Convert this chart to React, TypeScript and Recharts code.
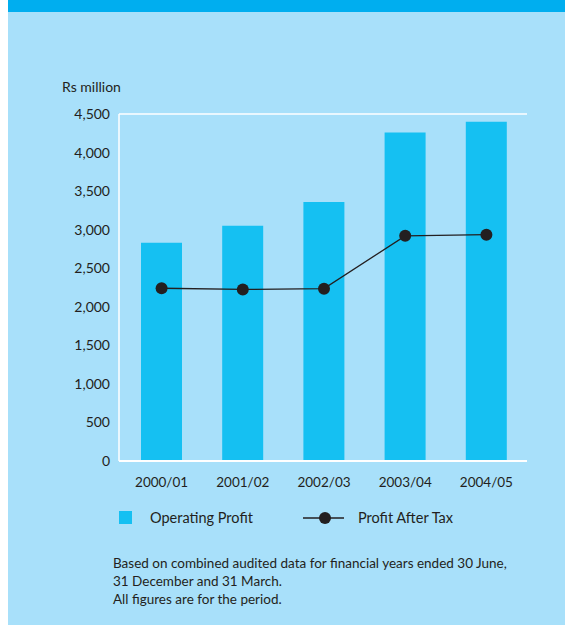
import React from 'react';
import { ComposedChart, Bar, Line, XAxis, YAxis, CartesianGrid } from 'recharts';

const categories = ['2000/01', '2001/02', '2002/03', '2003/04', '2004/05'];
const operatingProfit = [2830, 3050, 3360, 4260, 4400];
const profitAfterTax = [2240, 2225, 2235, 2920, 2935];
const yTicks = [0, 500, 1000, 1500, 2000, 2500, 3000, 3500, 4000, 4500];

const data = categories.map((c, i) => ({
  name: c,
  op: operatingProfit[i],
  pat: profitAfterTax[i],
}));

const FONT = 'Lato, "Open Sans", sans-serif';
const TEXT = '#231F20';
const BG = '#A8E0FA';
const BAR = '#15C0F2';
const BAND = '#00AEEF';

const fmt = (v: number) => v.toLocaleString('en-US');

export default function App() {
  const txt: React.CSSProperties = {
    position: 'absolute',
    fontFamily: FONT,
    fontSize: 14,
    lineHeight: '14px',
    color: TEXT,
    whiteSpace: 'nowrap',
  };
  return (
    <div style={{ position: 'absolute', left: 0, top: 0, width: 565, height: 625, background: '#fff', overflow: 'hidden' }}>
      <div style={{ position: 'absolute', left: 8, top: 0, width: 557, height: 625, background: BG }} />
      <div style={{ position: 'absolute', left: 8, top: 0, width: 557, height: 12, background: BAND }} />
      <div style={{ ...txt, left: 62, top: 80 }}>Rs million</div>
      <div style={{ position: 'absolute', left: 0, top: 0 }}>
        <ComposedChart
          width={565}
          height={500}
          data={data}
          margin={{ top: 114, right: 38, left: 0, bottom: 9 }}
          barCategoryGap="50%"
        >
          <CartesianGrid vertical={false} stroke="#FFFFFF" strokeWidth={1.5} />
          <XAxis
            dataKey="name"
            height={30}
            axisLine={{ stroke: '#FFFFFF', strokeWidth: 2 }}
            tickLine={false}
            tickMargin={10}
            tick={{ fill: TEXT, fontSize: 13.5, fontFamily: FONT }}
            interval={0}
            padding={{ left: 2, right: 0 }}
          />
          <YAxis
            yAxisId="left"
            width={119}
            domain={[0, 4500]}
            ticks={yTicks}
            tickFormatter={fmt}
            axisLine={{ stroke: '#FFFFFF', strokeWidth: 1.5 }}
            tickLine={false}
            tickMargin={3}
            tick={{ fill: TEXT, fontSize: 14, fontFamily: FONT }}
          />
          <YAxis
            yAxisId="right"
            orientation="right"
            width={0}
            domain={[0, 4500]}
            ticks={yTicks}
            tick={false}
            tickLine={false}
            axisLine={{ stroke: '#FFFFFF', strokeWidth: 1.5 }}
          />
          <Bar yAxisId="left" dataKey="op" fill={BAR} barSize={41} isAnimationActive={false} />
          <Line
            yAxisId="left"
            dataKey="pat"
            type="linear"
            stroke={TEXT}
            strokeWidth={1.3}
            dot={{ r: 6, fill: TEXT, stroke: 'none' }}
            activeDot={false}
            isAnimationActive={false}
          />
        </ComposedChart>
      </div>
      <div style={{ position: 'absolute', left: 119, top: 511, width: 13, height: 13, background: BAR }} />
      <div style={{ ...txt, left: 150, top: 511, fontSize: 14.5 }}>Operating Profit</div>
      <svg style={{ position: 'absolute', left: 303, top: 511 }} width={41} height={14}>
        <line x1={0} y1={7} x2={41} y2={7} stroke={TEXT} strokeWidth={1.3} />
        <circle cx={22} cy={7} r={6} fill={TEXT} />
      </svg>
      <div style={{ ...txt, left: 358, top: 511, fontSize: 14.5 }}>Profit After Tax</div>
      <div style={{ ...txt, left: 113, top: 554, lineHeight: '18px', fontSize: 13.5 }}>
        Based on combined audited data for financial years ended 30 June,
        <br />
        31 December and 31 March.
        <br />
        All figures are for the period.
      </div>
    </div>
  );
}
